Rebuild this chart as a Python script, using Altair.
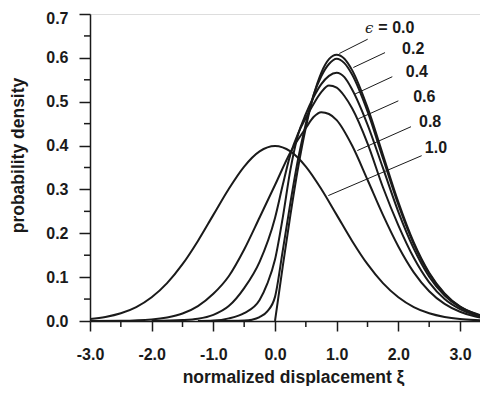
import altair as alt
import pandas as pd

# ---- curve data ----
g_x = [-3.0, -2.75, -2.5, -2.25, -2.0, -1.75, -1.5, -1.25, -1.0, -0.75, -0.5, -0.25, 0.0,
       0.25, 0.5, 0.75, 1.0, 1.25, 1.5, 1.75, 2.0, 2.25, 2.5, 2.75, 3.0, 3.25, 3.5]
g_y = [0.0044, 0.0091, 0.0175, 0.0317, 0.0540, 0.0863, 0.1295, 0.1826, 0.2420, 0.3011, 0.3521,
       0.3867, 0.3989, 0.3867, 0.3521, 0.3011, 0.2420, 0.1826, 0.1295, 0.0863, 0.0540, 0.0317,
       0.0175, 0.0091, 0.0044, 0.0020, 0.0009]

e0_x = [0.0, 0.125, 0.25, 0.375, 0.5, 0.625, 0.75, 0.875, 1.0, 1.125, 1.25, 1.5, 1.75, 2.0,
        2.25, 2.5, 2.75, 3.0, 3.25, 3.5]
e0_y = [0.0, 0.124, 0.242, 0.350, 0.441, 0.514, 0.566, 0.597, 0.607, 0.598, 0.572, 0.487,
        0.379, 0.271, 0.179, 0.110, 0.063, 0.033, 0.017, 0.008]

e2_x = [-1.0, -0.5, -0.375, -0.25, -0.125, 0.0, 0.125, 0.25, 0.375, 0.5, 0.625, 0.75, 0.875,
        1.0, 1.125, 1.25, 1.5, 1.75, 2.0, 2.25, 2.5, 2.75, 3.0, 3.25, 3.5]
e2_y = [0.0, 0.001, 0.003, 0.009, 0.022, 0.055, 0.16, 0.27, 0.37, 0.45, 0.515, 0.558, 0.586,
        0.598, 0.588, 0.562, 0.478, 0.371, 0.265, 0.1755, 0.1076, 0.0614, 0.0327, 0.0162, 0.0075]

e4_x = [-1.25, -1.0, -0.75, -0.5, -0.25, -0.125, 0.0, 0.125, 0.25, 0.375, 0.5, 0.625, 0.75,
        0.875, 1.0, 1.125, 1.25, 1.5, 1.75, 2.0, 2.25, 2.5, 2.75, 3.0, 3.25, 3.5]
e4_y = [0.0, 0.001, 0.006, 0.018, 0.048, 0.085, 0.14, 0.235, 0.345, 0.425, 0.472, 0.51, 0.54,
        0.559, 0.566, 0.556, 0.528, 0.448, 0.349, 0.249, 0.165, 0.101, 0.058, 0.031, 0.015, 0.007]

e6_x = [-2.0, -1.5, -1.25, -1.0, -0.75, -0.5, -0.25, 0.0, 0.125, 0.25, 0.375, 0.5, 0.625, 0.75,
        0.875, 1.0, 1.125, 1.25, 1.5, 1.75, 2.0, 2.25, 2.5, 2.75, 3.0, 3.25, 3.5]
e6_y = [0.0002, 0.002, 0.005, 0.014, 0.034, 0.075, 0.135, 0.235, 0.31, 0.38, 0.428, 0.463,
        0.495, 0.522, 0.537, 0.532, 0.513, 0.485, 0.405, 0.305, 0.218, 0.144, 0.088, 0.050,
        0.027, 0.013, 0.006]

e8_x = [-3.0, -2.5, -2.0, -1.75, -1.5, -1.25, -1.0, -0.75, -0.5, -0.25, 0.0, 0.25, 0.5, 0.625,
        0.75, 0.875, 1.0, 1.25, 1.5, 1.75, 2.0, 2.25, 2.5, 2.75, 3.0, 3.25, 3.5]
e8_y = [0.0, 0.0005, 0.0035, 0.008, 0.017, 0.034, 0.062, 0.102, 0.163, 0.236, 0.31, 0.385, 0.44,
        0.465, 0.476, 0.472, 0.458, 0.40, 0.322, 0.242, 0.17, 0.111, 0.068, 0.039, 0.021, 0.010,
        0.005]

curve_names = ["0.0", "0.2", "0.4", "0.6", "0.8", "1.0"]
curve_xs = [e0_x, e2_x, e4_x, e6_x, e8_x, g_x]
curve_ys = [e0_y, e2_y, e4_y, e6_y, e8_y, g_y]

# ---- labels and leader lines ----
label_text = ["= 0.0", "0.2", "0.4", "0.6", "0.8", "1.0"]
label_x = [1.676, 2.06, 2.12, 2.24, 2.335, 2.43]
label_y = [0.668, 0.620, 0.568, 0.510, 0.4545, 0.395]
eps_x = [1.46]
eps_y = [0.668]
lead_x1 = [1.503, 1.784, 1.902, 2.0, 2.205, 2.378]
lead_y1 = [0.6425, 0.612, 0.557, 0.502, 0.443, 0.377]
lead_x2 = [1.043, 1.27, 1.297, 1.351, 1.335, 0.865]
lead_y2 = [0.610, 0.578, 0.5175, 0.461, 0.3886, 0.286]

x_ticks = [-3, -2, -1, 0, 1, 2, 3]
x_minor = [-2.5, -1.5, -0.5, 0.5, 1.5, 2.5]
y_ticks = [0.0, 0.1, 0.2, 0.3, 0.4, 0.5, 0.6, 0.7]
y_minor = [0.05, 0.15, 0.25, 0.35, 0.45, 0.55, 0.65]

rows = []
for name, xs, ys in zip(curve_names, curve_xs, curve_ys):
    for xv, yv in zip(xs, ys):
        rows.append({"x": xv, "y": yv, "curve": name})
curves_df = pd.DataFrame(rows)
labels_df = pd.DataFrame({"x": label_x, "y": label_y, "text": label_text})
eps_df = pd.DataFrame({"x": eps_x, "y": eps_y, "text": ["ϵ"]})
lead_df = pd.DataFrame({"x": lead_x1, "y": lead_y1, "x2": lead_x2, "y2": lead_y2})

INK = "#1a1a1a"
FONT = "Liberation Sans"

x_scale = alt.Scale(domain=[-3, 3.324], nice=False, zero=False)
y_scale = alt.Scale(domain=[0, 0.7], nice=False)

x_axis = alt.Axis(values=x_ticks, labelExpr="replace(format(datum.value, '.1f'), '\u2212', '-')",
                  title="normalized displacement ξ", grid=False, tickSize=10, tickWidth=1.5,
                  tickColor=INK, domainColor=INK, domainWidth=1.5, labelPadding=15,
                  labelFontSize=16, labelFontWeight="bold", labelColor=INK, labelFont=FONT,
                  labelFlush=False, labelOverlap=False,
                  titleFontSize=17.5, titleFontWeight="bold", titleColor=INK, titleFont=FONT,
                  titleX=203, titleY=61, titleBaseline="alphabetic", titleAlign="center")
y_axis = alt.Axis(values=y_ticks, format=".1f", title="probability density", grid=False,
                  tickSize=11, tickWidth=1.5, tickColor=INK, domainColor=INK, domainWidth=1.5,
                  labelPadding=11, labelFontSize=16, labelFontWeight="bold", labelColor=INK,
                  labelFont=FONT, labelFlush=False, labelOverlap=False,
                  labelOffset={"condition": {"test": "datum.value >= 0.69", "value": 4},
                               "value": 0},
                  titleFontSize=17.5, titleFontWeight="bold", titleColor=INK, titleFont=FONT,
                  titleAngle=270, titleX=-67, titleY=141, titleBaseline="alphabetic",
                  titleAlign="center")

X = lambda f="x": alt.X(f"{f}:Q", scale=x_scale, axis=x_axis)
Y = lambda f="y": alt.Y(f"{f}:Q", scale=y_scale, axis=y_axis)

lines = alt.Chart(curves_df).mark_line(color=INK, strokeWidth=2, interpolate="monotone",
                                       clip=True).encode(x=X(), y=Y(), detail="curve:N")

leaders = alt.Chart(lead_df).mark_rule(color=INK, strokeWidth=1).encode(
    x=X(), y=Y(), x2="x2:Q", y2="y2:Q")

labels = alt.Chart(labels_df).mark_text(align="left", baseline="middle", font=FONT,
                                        fontSize=16, fontWeight="bold", color=INK).encode(
    x=X(), y=Y(), text="text:N")

eps = alt.Chart(eps_df).mark_text(align="left", baseline="middle", font="DejaVu Serif",
                                  fontSize=15, fontStyle="italic", color=INK).encode(
    x=X(), y=Y(), text="text:N")

xminor = alt.Chart(pd.DataFrame({"x": x_minor})).mark_rule(color=INK, strokeWidth=1.5).encode(
    x=X(), y=alt.value(307), y2=alt.value(313))
yminor = alt.Chart(pd.DataFrame({"y": y_minor})).mark_rule(color=INK, strokeWidth=1.5).encode(
    y=Y(), x=alt.value(0), x2=alt.value(-6))

chart = alt.layer(lines, leaders, labels, eps, xminor, yminor).properties(
    width=390, height=307,
    padding={"left": 82, "top": 6, "right": 0, "bottom": 65},
    autosize=alt.AutoSizeParams(type="none"),
).configure_view(stroke=None).configure(background="white")

chart.save("out.html", embed_options={"renderer": "svg", "actions": False})
